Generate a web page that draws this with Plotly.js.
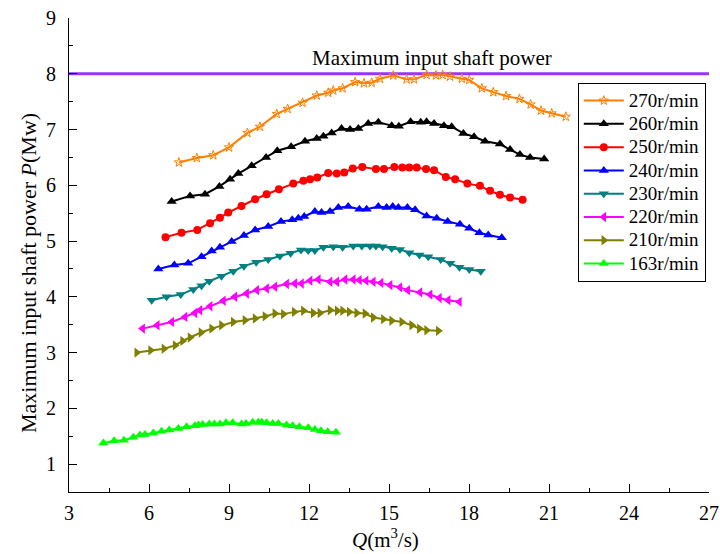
<!DOCTYPE html>
<html>
<head>
<meta charset="utf-8">
<script src="https://cdn.plot.ly/plotly-3.0.1.min.js"></script>
<style>html,body{margin:0;padding:0;background:#fff;}#chart{width:720px;height:554px;}</style>
</head>
<body>
<div id="chart"></div>
<script>
const seriesNames = ["270r/min","260r/min","250r/min","240r/min","230r/min","220r/min","210r/min","163r/min"];

const q270 = [7.12,7.79,8.41,9.0,9.69,10.16,10.79,11.2,11.76,12.29,12.72,12.91,13.26,13.73,14.06,14.35,14.66,15.16,15.66,15.94,16.41,16.76,17.01,17.29,17.73,18.01,18.48,18.91,19.39,19.89,20.31,20.7,21.1,21.63];
const p270 = [6.41,6.49,6.54,6.68,6.94,7.05,7.28,7.37,7.48,7.61,7.66,7.70,7.74,7.85,7.83,7.84,7.91,7.97,7.90,7.90,7.98,7.97,7.98,7.95,7.91,7.89,7.74,7.67,7.60,7.55,7.45,7.34,7.29,7.23];

const q260 = [6.85,7.54,8.1,8.64,9.04,9.35,9.85,10.39,10.81,11.33,11.85,12.29,12.54,12.85,13.22,13.54,13.85,14.22,14.6,15.1,15.37,15.81,16.19,16.41,16.69,17.06,17.35,17.79,18.19,18.6,19.16,19.54,19.91,20.29,20.82];
const p260 = [5.71,5.81,5.84,5.98,6.11,6.21,6.35,6.50,6.62,6.69,6.79,6.84,6.88,6.94,7.02,7.00,7.02,7.11,7.13,7.07,7.06,7.14,7.13,7.14,7.11,7.07,7.05,6.93,6.87,6.79,6.74,6.64,6.55,6.50,6.47];

const q250 = [6.62,7.22,7.81,8.29,8.66,8.97,9.47,9.98,10.41,10.87,11.41,11.79,12.04,12.31,12.72,13.04,13.32,13.64,14.0,14.51,14.81,15.2,15.5,15.76,16.04,16.39,16.69,17.13,17.48,17.94,18.41,18.79,19.16,19.54,20.01];
const p250 = [5.07,5.15,5.20,5.32,5.42,5.51,5.63,5.75,5.84,5.93,6.03,6.08,6.11,6.14,6.22,6.21,6.23,6.30,6.33,6.29,6.29,6.33,6.32,6.32,6.32,6.29,6.27,6.15,6.11,6.03,5.99,5.90,5.83,5.78,5.74];

const q240 = [6.35,6.95,7.47,7.97,8.35,8.66,9.1,9.56,9.98,10.47,10.95,11.37,11.6,11.82,12.22,12.47,12.79,13.1,13.47,13.89,14.16,14.6,14.91,15.14,15.35,15.69,15.98,16.41,16.79,17.2,17.66,18.01,18.39,18.72,19.23];
const p240 = [4.50,4.57,4.60,4.72,4.82,4.89,4.99,5.10,5.20,5.26,5.35,5.38,5.41,5.44,5.53,5.51,5.53,5.60,5.62,5.57,5.57,5.62,5.60,5.62,5.60,5.60,5.56,5.45,5.41,5.35,5.30,5.23,5.15,5.11,5.06];

const q230 = [6.1,6.66,7.19,7.66,7.97,8.26,8.72,9.16,9.56,10.02,10.47,10.91,11.31,11.7,11.97,12.22,12.54,12.91,13.26,13.66,13.98,14.29,14.51,14.76,15.1,15.41,15.76,16.14,16.47,16.94,17.29,17.64,18.01,18.44];
const p230 = [3.94,4.00,4.04,4.13,4.20,4.28,4.37,4.46,4.55,4.62,4.67,4.73,4.78,4.84,4.83,4.83,4.89,4.90,4.89,4.91,4.91,4.91,4.91,4.90,4.87,4.85,4.79,4.75,4.72,4.67,4.60,4.53,4.49,4.46];

const q220 = [5.76,6.31,6.85,7.35,7.72,7.91,8.29,8.79,9.22,9.66,10.04,10.41,10.72,11.16,11.47,11.72,12.04,12.35,12.79,13.04,13.35,13.66,13.89,14.14,14.41,14.7,15.04,15.41,15.7,16.16,16.54,16.89,17.22,17.64];
const p220 = [3.43,3.49,3.55,3.64,3.71,3.76,3.83,3.93,4.00,4.06,4.12,4.15,4.18,4.23,4.24,4.24,4.29,4.31,4.27,4.27,4.31,4.31,4.30,4.29,4.27,4.25,4.21,4.17,4.12,4.08,4.04,3.98,3.94,3.91];

const q210 = [5.54,6.06,6.56,6.98,7.26,7.54,7.95,8.35,8.72,9.16,9.6,9.98,10.35,10.72,11.04,11.45,11.79,12.16,12.41,12.79,13.06,13.26,13.51,13.79,14.1,14.41,14.79,15.1,15.48,15.85,16.14,16.41,16.85];
const p210 = [3.00,3.04,3.07,3.13,3.21,3.27,3.36,3.43,3.49,3.55,3.58,3.61,3.65,3.70,3.69,3.73,3.75,3.71,3.71,3.76,3.75,3.75,3.73,3.71,3.70,3.63,3.60,3.57,3.55,3.49,3.43,3.40,3.39];

const q163 = [4.29,4.69,5.06,5.41,5.66,5.85,6.16,6.47,6.76,7.1,7.41,7.72,7.85,8.01,8.26,8.45,8.66,8.89,9.14,9.47,9.64,9.89,10.1,10.23,10.41,10.64,10.85,11.16,11.39,11.64,11.97,12.22,12.45,12.7,13.01];
const p163 = [1.38,1.42,1.43,1.48,1.52,1.53,1.56,1.59,1.61,1.64,1.67,1.69,1.70,1.71,1.72,1.72,1.72,1.74,1.74,1.72,1.73,1.75,1.75,1.75,1.74,1.73,1.73,1.70,1.69,1.67,1.65,1.62,1.60,1.58,1.57];

const maxPower = 8;
const limitLabel = "Maximum input shaft power";
const yTitle = "Maximum input shaft power <i>P</i>(Mw)";
const xTitle = "<i>Q</i>(m<sup>3</sup>/s)";
const xRange = [3, 27];
const yRange = [0.5, 9];

const qs = [q270,q260,q250,q240,q230,q220,q210,q163];
const ps = [p270,p260,p250,p240,p230,p220,p210,p163];
const colors = ["#ff8000","#000000","#ff0000","#0000ff","#008080","#ff00ff","#808000","#00ff00"];
const symbols = ["star-open","triangle-up","circle","triangle-up","triangle-down","triangle-left","triangle-right","triangle-up"];
const sizes = [7,9,8,9,9,9,9,9];

const traces = [];
traces.push({
  x: xRange, y: [maxPower, maxPower], mode: "lines",
  line: {color: "#9933ff", width: 3}, showlegend: false, hoverinfo: "skip"
});
for (let i = 0; i < seriesNames.length; i++) {
  traces.push({
    x: qs[i], y: ps[i], name: '<span style="font-size:19px">' + seriesNames[i] + '</span>', mode: "lines+markers",
    line: {color: colors[i], width: 2},
    marker: {symbol: symbols[i], size: sizes[i], color: colors[i], line: {color: colors[i], width: symbols[i]==="star-open"?1:0}}
  });
}

const fontFam = "Liberation Serif, Times New Roman, serif";
const layout = {
  width: 720, height: 554,
  margin: {l: 69, r: 11, t: 18, b: 62},
  paper_bgcolor: "#fff", plot_bgcolor: "#fff",
  font: {family: fontFam, size: 20, color: "#000"},
  xaxis: {
    range: xRange, dtick: 3, tick0: 3, showgrid: false, zeroline: false,
    showline: true, linecolor: "#000", linewidth: 1,
    ticks: "inside", ticklen: 8, tickcolor: "#000", ticklabelstandoff: 3,
    minor: {ticks: "inside", dtick: 1.5, ticklen: 4, tickcolor: "#000"},
    tickfont: {family: fontFam, size: 20}
  },
  yaxis: {
    range: yRange, dtick: 1, tick0: 0, showgrid: false, zeroline: false,
    showline: true, linecolor: "#000", linewidth: 1,
    ticks: "inside", ticklen: 8, tickcolor: "#000", ticklabelstandoff: 8,
    minor: {ticks: "inside", dtick: 0.5, ticklen: 4, tickcolor: "#000"},
    tickfont: {family: fontFam, size: 20}
  },
  showlegend: true,
  legend: {
    x: 0.795, y: 0.863, xanchor: "left", yanchor: "top",
    bordercolor: "#000", borderwidth: 1, bgcolor: "#fff",
    font: {family: fontFam, size: 15.6}, tracegroupgap: 0, itemwidth: 40
  },
  annotations: [
    {x: 16.6, y: 8.28, xref: "x", yref: "y", text: limitLabel, showarrow: false,
     font: {family: fontFam, size: 21, color: "#000"}},
    {x: -0.064, y: 0.462, xref: "paper", yref: "paper", text: yTitle, textangle: -90,
     showarrow: false, xanchor: "center", yanchor: "middle",
     font: {family: fontFam, size: 22, color: "#000"}},
    {x: 0.495, y: -0.098, xref: "paper", yref: "paper", text: xTitle,
     showarrow: false, xanchor: "center", yanchor: "middle",
     font: {family: fontFam, size: 21, color: "#000"}}
  ]
};

Plotly.newPlot("chart", traces, layout, {displayModeBar: false, staticPlot: true});
</script>
</body>
</html>
